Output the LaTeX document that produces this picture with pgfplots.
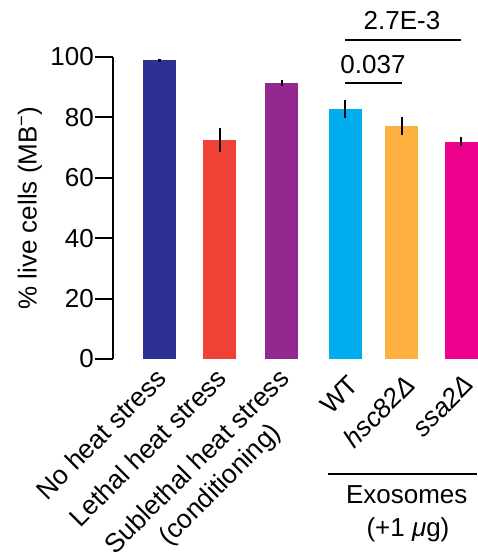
\documentclass[border=0pt]{standalone}
\usepackage{fontspec}
\setmainfont{Liberation Sans}
\usepackage{pgfplots}
\pgfplotsset{compat=1.18}
\definecolor{c1}{HTML}{2E3192}
\definecolor{c2}{HTML}{EF4136}
\definecolor{c3}{HTML}{92278F}
\definecolor{c4}{HTML}{00AEEF}
\definecolor{c5}{HTML}{FBB040}
\definecolor{c6}{HTML}{EC008C}
\begin{document}
\begin{tikzpicture}[font=\fontsize{26}{29}\selectfont]
\begin{axis}[
  at={(0,0)}, anchor=south west,
  scale only axis, width=364pt, height=302pt,
  xmin=-0.771, xmax=5.265, ymin=0, ymax=100,
  clip=false,
  axis y line*=left, axis x line*=bottom,
  axis line style={line width=2.2pt},
  x axis line style={draw=none},
  ytick={0,20,40,60,80,100},
  tick align=outside,
  major tick length=18pt,
  ytick style={line width=2.2pt, black},
  xtick style={draw=none},
  xtick={0,1,2.03,3.08,4.02,5},
  xticklabels={No heat stress, Lethal heat stress, {Sublethal heat stress\\(conditioning)}, \raisebox{-10pt}[\height][0pt]{WT}, \raisebox{-9pt}[\height][0pt]{\textit{hsc82Δ}}, \raisebox{-9pt}[\height][0pt]{\textit{ssa2Δ}}},
  xticklabel style={font=\fontsize{26.5}{32}\selectfont, xshift=-5pt, yshift=12pt, rotate=45, anchor=north east, align=center, inner sep=1pt},
  yticklabel style={inner sep=1pt},
  ylabel={\% live cells (MB\textsuperscript{−})},
  ylabel style={at={(axis description cs:-0.228,0.5)}, anchor=center},
  /pgf/number format/assume math mode=true,
  error bars/error bar style={line width=2.5pt, black},
  error bars/error mark=none,
]
\addplot[ybar, bar width=33pt, bar shift=0pt, fill=c1, draw=none, error bars/.cd, y dir=both, y explicit] coordinates {(0,99.0) +- (0,0.5)};
\addplot[ybar, bar width=33pt, bar shift=0pt, fill=c2, draw=none, error bars/.cd, y dir=both, y explicit] coordinates {(1,72.6) +- (0,4.0)};
\addplot[ybar, bar width=33pt, bar shift=0pt, fill=c3, draw=none, error bars/.cd, y dir=both, y explicit] coordinates {(2.03,91.4) +- (0,1.0)};
\addplot[ybar, bar width=33pt, bar shift=0pt, fill=c4, draw=none, error bars/.cd, y dir=both, y explicit] coordinates {(3.08,82.9) +- (0,3.0)};
\addplot[ybar, bar width=33pt, bar shift=0pt, fill=c5, draw=none, error bars/.cd, y dir=both, y explicit] coordinates {(4.02,77.2) +- (0,2.9)};
\addplot[ybar, bar width=33pt, bar shift=0pt, fill=c6, draw=none, error bars/.cd, y dir=both, y explicit] coordinates {(5,71.9) +- (0,1.5)};
\draw[line width=2.2pt] (axis cs:3.08,91.5) -- (axis cs:4.02,91.5);
\node at (axis cs:3.54,97.4) {0.037};
\draw[line width=2.2pt] (axis cs:3.08,105.7) -- (axis cs:5,105.7);
\node at (axis cs:4.02,112) {2.7E-3};
\draw[line width=2.2pt] (axis cs:2.79,-38.1) -- (axis cs:5.265,-38.1);
\node at (axis cs:4.10,-45.0) {Exosomes};
\node at (axis cs:4.12,-56.6) {(+1 \textit{μ}g)};
\end{axis}
\pgfresetboundingbox
\path (-113pt,-197pt) rectangle (364pt,359pt);
\end{tikzpicture}
\end{document}
